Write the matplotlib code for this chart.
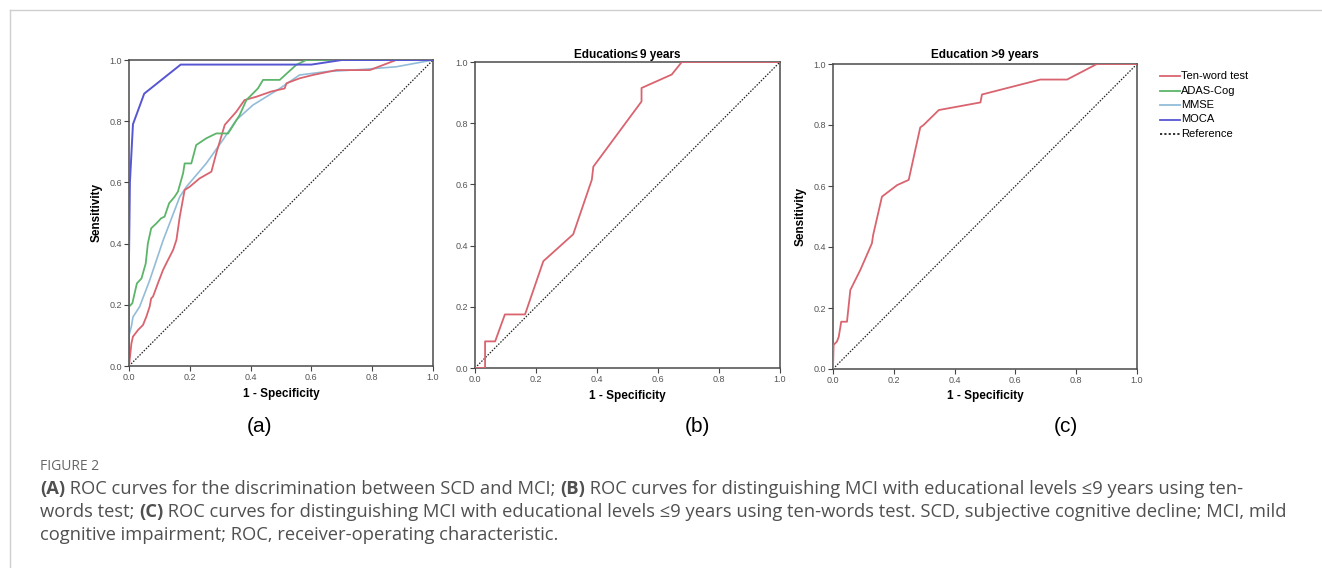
import matplotlib
matplotlib.use("Agg")
import matplotlib.pyplot as plt
from matplotlib.lines import Line2D

W, H = 1322, 568
DPI = 100

# ---------------- data ----------------
ticks = [0.0, 0.2, 0.4, 0.6, 0.8, 1.0]
tick_labels = ["0.0", "0.2", "0.4", "0.6", "0.8", "1.0"]

# Panel (a): SCD vs MCI
tw_a_fpr = [0, 0.008, 0.013, 0.03, 0.046, 0.057, 0.068, 0.073, 0.079, 0.095, 0.112, 0.128, 0.145,
            0.156, 0.167, 0.183, 0.2, 0.232, 0.271, 0.287, 0.315, 0.353, 0.38, 0.419, 0.468, 0.512,
            0.518, 0.561, 0.605, 0.682, 0.792, 0.879, 1.0]
tw_a_tpr = [0, 0.074, 0.096, 0.118, 0.134, 0.161, 0.194, 0.221, 0.227, 0.27, 0.314, 0.346, 0.379,
            0.412, 0.488, 0.575, 0.586, 0.613, 0.635, 0.695, 0.788, 0.831, 0.869, 0.88, 0.897, 0.907,
            0.924, 0.94, 0.951, 0.967, 0.967, 1.0, 1.0]

adas_fpr = [0, 0.011, 0.016, 0.026, 0.041, 0.055, 0.062, 0.073, 0.09, 0.106, 0.117, 0.132, 0.15,
            0.161, 0.178, 0.183, 0.205, 0.221, 0.254, 0.287, 0.326, 0.364, 0.386, 0.424, 0.441,
            0.496, 0.55, 0.583, 1.0]
adas_tpr = [0.194, 0.205, 0.227, 0.27, 0.286, 0.335, 0.40, 0.45, 0.466, 0.483, 0.488, 0.532, 0.553,
            0.57, 0.63, 0.662, 0.662, 0.722, 0.744, 0.76, 0.76, 0.82, 0.869, 0.907, 0.935,
            0.935, 0.984, 1.0, 1.0]

mmse_fpr = [0, 0, 0.008, 0.013, 0.035, 0.068, 0.112, 0.167, 0.189, 0.254, 0.309, 0.353, 0.408,
            0.496, 0.561, 0.649, 0.781, 0.88, 1.0]
mmse_tpr = [0, 0.10, 0.13, 0.16, 0.194, 0.28, 0.41, 0.553, 0.586, 0.662, 0.739, 0.804, 0.853,
            0.907, 0.951, 0.962, 0.97, 0.978, 1.0]

moca_fpr = [0, 0, 0.003, 0.013, 0.05, 0.17, 0.6, 0.7, 1.0]
moca_tpr = [0, 0.35, 0.6, 0.79, 0.89, 0.985, 0.985, 1.0, 1.0]

# Panel (b): education <= 9 years
tw_b_fpr = [0, 0.033, 0.033, 0.066, 0.098, 0.164, 0.224, 0.322, 0.383, 0.388, 0.546, 0.546,
            0.645, 0.678, 1.0]
tw_b_tpr = [0, 0, 0.087, 0.087, 0.175, 0.175, 0.349, 0.437, 0.615, 0.658, 0.871, 0.915,
            0.959, 1.0, 1.0]

# Panel (c): education > 9 years
tw_c_fpr = [0, 0.002, 0.013, 0.019, 0.027, 0.046, 0.057, 0.09, 0.128, 0.132, 0.161, 0.211,
            0.249, 0.287, 0.298, 0.348, 0.485, 0.49, 0.682, 0.77, 0.868, 1.0]
tw_c_tpr = [0, 0.079, 0.09, 0.106, 0.155, 0.155, 0.259, 0.325, 0.412, 0.439, 0.565, 0.603,
            0.62, 0.792, 0.8, 0.849, 0.874, 0.9, 0.949, 0.949, 1.0, 1.0]

legend_labels = ["Ten-word test", "ADAS-Cog", "MMSE", "MOCA", "Reference"]
titles = ["", "Education\u2264\u20099 years", "Education >9 years"]
panel_tags = ["(a)", "(b)", "(c)"]

# ---------------- style ----------------
C_TW = "#d9646f"
C_ADAS = "#5cb56a"
C_MMSE = "#93bcd8"
C_MOCA = "#5656d2"
CHART_FONT = ["Liberation Sans", "DejaVu Sans"]
CAP_FONT = ["Open Sans", "DejaVu Sans"]

fig = plt.figure(figsize=(W / DPI, H / DPI), dpi=DPI)
fig.patch.set_facecolor("white")

def px_axes(l, t, r, b):
    return fig.add_axes([l / W, 1 - b / H, (r - l) / W, (b - t) / H])

def fx(x):
    return x / W

def fy(y):
    return 1 - y / H

# outer card border (top and left edges visible)
fig.add_artist(Line2D([fx(10), fx(10)], [fy(10), fy(600)], transform=fig.transFigure,
                      color="#cfcfcf", lw=1.0))
fig.add_artist(Line2D([fx(10), fx(1340)], [fy(10), fy(10)], transform=fig.transFigure,
                      color="#cfcfcf", lw=1.0))

def style_ax(ax, ylabel=True):
    ax.set_xlim(0, 1)
    ax.set_ylim(0, 1)
    ax.set_xticks(ticks)
    ax.set_yticks(ticks)
    ax.set_xticklabels(tick_labels, family=CHART_FONT)
    ax.set_yticklabels(tick_labels, family=CHART_FONT)
    ax.tick_params(direction="out", length=3.5, width=0.8, color="#444", labelsize=6.5,
                   labelcolor="#555", pad=1.5)
    for s in ax.spines.values():
        s.set_color("#4a4a4a")
        s.set_linewidth(1.1)
    ax.set_xlabel("1 - Specificity", family=CHART_FONT, fontweight="bold", fontsize=8.5, labelpad=4)
    if ylabel:
        ax.set_ylabel("Sensitivity", family=CHART_FONT, fontweight="bold", fontsize=8.5, labelpad=5)
    ax.plot([0, 1], [0, 1], color="#222", linestyle=(0, (1.2, 1.2)), linewidth=0.9, zorder=1)

# Panel (a)
ax_a = px_axes(129, 60, 433, 366)
style_ax(ax_a)
ax_a.plot(mmse_fpr, mmse_tpr, color=C_MMSE, lw=1.2, zorder=2)
ax_a.plot(tw_a_fpr, tw_a_tpr, color=C_TW, lw=1.3, zorder=3)
ax_a.plot(adas_fpr, adas_tpr, color=C_ADAS, lw=1.3, zorder=3)
ax_a.plot(moca_fpr, moca_tpr, color=C_MOCA, lw=1.4, zorder=4)

# Panel (b)
ax_b = px_axes(475, 62, 780, 368)
style_ax(ax_b, ylabel=False)
ax_b.plot(tw_b_fpr, tw_b_tpr, color=C_TW, lw=1.3, zorder=3)
ax_b.set_title(titles[1], family=CHART_FONT, fontweight="bold", fontsize=8.5, pad=3)

# Panel (c)
ax_c = px_axes(833, 64, 1137, 369)
style_ax(ax_c)
ax_c.plot(tw_c_fpr, tw_c_tpr, color=C_TW, lw=1.3, zorder=3)
ax_c.set_title(titles[2], family=CHART_FONT, fontweight="bold", fontsize=8.5, pad=4)

# panel tags
for tag, x in zip(panel_tags, [259, 697, 1066]):
    fig.text(fx(x), fy(426), tag, family=CHART_FONT, fontsize=15, ha="center", va="center")

# legend
leg_colors = [C_TW, C_ADAS, C_MMSE, C_MOCA, "#222"]
leg_y = [76, 90.5, 105, 119.5, 134]
for lab, c, y in zip(legend_labels, leg_colors, leg_y):
    ls = (0, (1.2, 1.2)) if lab == "Reference" else "-"
    fig.add_artist(Line2D([fx(1160), fx(1180)], [fy(y), fy(y)], transform=fig.transFigure,
                          color=c, lw=1.3, linestyle=ls))
    fig.text(fx(1181), fy(y), lab, family=CHART_FONT, fontsize=8.0, va="center", ha="left")

# caption
fig.text(fx(40), fy(466), "FIGURE 2", family=CAP_FONT, fontsize=10, color="#666",
         va="center", ha="left")

cap_lines = [
    [("(A)", "bold"), (" ROC curves for the discrimination between SCD and MCI; ", "normal"),
     ("(B)", "bold"), (" ROC curves for distinguishing MCI with educational levels \u22649 years using ten-", "normal")],
    [("words test; ", "normal"), ("(C)", "bold"),
     (" ROC curves for distinguishing MCI with educational levels \u22649 years using ten-words test. SCD, subjective cognitive decline; MCI, mild", "normal")],
    [("cognitive impairment; ROC, receiver-operating characteristic.", "normal")],
]
cap_y = [489, 512, 535]
renderer = fig.canvas.get_renderer()
for runs, y in zip(cap_lines, cap_y):
    x = 40
    for txt, wt in runs:
        t = fig.text(fx(x), fy(y), txt, family=CAP_FONT, fontsize=13.2, fontweight=wt,
                     color="#505050", va="center", ha="left")
        bb = t.get_window_extent(renderer)
        x += bb.width

fig.savefig("out.png", dpi=DPI)
